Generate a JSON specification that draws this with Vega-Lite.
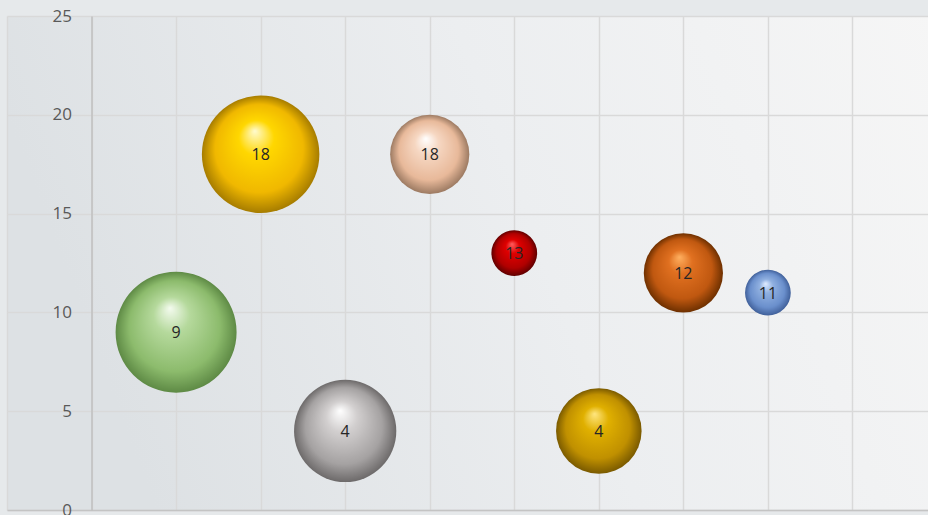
{
  "$schema": "https://vega.github.io/schema/vega-lite/v6.json",
  "width": 930,
  "height": 494,
  "autosize": {"type": "none"},
  "padding": {"left": 7, "top": 16, "right": 0, "bottom": 5},
  "background": "#e6e9eb",
  "config": {
    "view": {
      "stroke": null,
      "fill": {"gradient": "linear", "x1": 0, "y1": 0.2, "x2": 1, "y2": 0, "stops": [{"offset": 0, "color": "#dde1e4"}, {"offset": 0.5, "color": "#eceef0"}, {"offset": 1, "color": "#f6f6f6"}]}
    },
    "font": "Open Sans",
    "point": {"filled": true, "opacity": 1, "strokeWidth": 0}
  },
  "data": {
    "values": [
      {"ball": "a", "x": 1, "y": 9, "z": 7},
      {"ball": "b", "x": 2, "y": 18, "z": 6.6},
      {"ball": "c", "x": 3, "y": 4, "z": 5},
      {"ball": "d", "x": 4, "y": 18, "z": 3},
      {"ball": "e", "x": 5, "y": 13, "z": 1},
      {"ball": "f", "x": 6, "y": 4, "z": 3.5},
      {"ball": "g", "x": 7, "y": 12, "z": 3},
      {"ball": "h", "x": 8, "y": 11, "z": 1}
    ]
  },
  "encoding": {
    "x": {
      "field": "x", "type": "quantitative",
      "scale": {"domain": [-1, 10], "nice": false, "zero": false},
      "axis": {"title": null, "labels": false, "ticks": false, "values": [-1, 0, 1, 2, 3, 4, 5, 6, 7, 8, 9, 10], "grid": true, "gridColor": "#d9d9d9", "gridWidth": 1.5, "domainColor": "#c4c4c4", "domainWidth": 1.5}
    },
    "y": {
      "field": "y", "type": "quantitative",
      "scale": {"domain": [0, 25], "nice": false},
      "axis": {"title": null, "values": [0, 5, 10, 15, 20, 25], "ticks": false, "offset": -84.5, "labelPadding": 20, "labelFontSize": 17, "labelColor": "#595959", "labelFont": "Open Sans", "grid": true, "gridColor": "#d9d9d9", "gridWidth": 1.5, "domainColor": "#bfbfbf", "domainWidth": 1.5}
    },
    "size": {"field": "z", "type": "quantitative", "scale": {"domain": [0, 7], "range": [0, 14641]}, "legend": null}
  },
  "layer": [
    {
      "transform": [{"filter": "datum.ball == 'a'"}],
      "mark": {"type": "point", "color": {"gradient": "radial", "x1": 0.45, "y1": 0.3, "r1": 0, "x2": 0.5, "y2": 0.5, "r2": 0.5, "stops": [{"offset": 0, "color": "#f4fbef"}, {"offset": 0.3, "color": "#b5d99c"}, {"offset": 0.75, "color": "#8cbb6c"}, {"offset": 1, "color": "#5e8a45"}]}}
    },
    {
      "transform": [{"filter": "datum.ball == 'b'"}],
      "mark": {"type": "point", "color": {"gradient": "radial", "x1": 0.45, "y1": 0.3, "r1": 0, "x2": 0.5, "y2": 0.5, "r2": 0.5, "stops": [{"offset": 0, "color": "#fffbd0"}, {"offset": 0.3, "color": "#ffd700"}, {"offset": 0.75, "color": "#f0b800"}, {"offset": 1, "color": "#a67c00"}]}}
    },
    {
      "transform": [{"filter": "datum.ball == 'c'"}],
      "mark": {"type": "point", "color": {"gradient": "radial", "x1": 0.45, "y1": 0.3, "r1": 0, "x2": 0.5, "y2": 0.5, "r2": 0.5, "stops": [{"offset": 0, "color": "#ffffff"}, {"offset": 0.3, "color": "#d2cfcf"}, {"offset": 0.75, "color": "#a5a2a2"}, {"offset": 1, "color": "#6d6a6a"}]}}
    },
    {
      "transform": [{"filter": "datum.ball == 'd'"}],
      "mark": {"type": "point", "color": {"gradient": "radial", "x1": 0.45, "y1": 0.3, "r1": 0, "x2": 0.5, "y2": 0.5, "r2": 0.5, "stops": [{"offset": 0, "color": "#ffffff"}, {"offset": 0.3, "color": "#f6d7c2"}, {"offset": 0.75, "color": "#e8b99a"}, {"offset": 1, "color": "#9c7a62"}]}}
    },
    {
      "transform": [{"filter": "datum.ball == 'e'"}],
      "mark": {"type": "point", "color": {"gradient": "radial", "x1": 0.45, "y1": 0.3, "r1": 0, "x2": 0.5, "y2": 0.5, "r2": 0.5, "stops": [{"offset": 0, "color": "#ff6060"}, {"offset": 0.3, "color": "#e00000"}, {"offset": 0.75, "color": "#b00000"}, {"offset": 1, "color": "#600000"}]}}
    },
    {
      "transform": [{"filter": "datum.ball == 'f'"}],
      "mark": {"type": "point", "color": {"gradient": "radial", "x1": 0.45, "y1": 0.3, "r1": 0, "x2": 0.5, "y2": 0.5, "r2": 0.5, "stops": [{"offset": 0, "color": "#ffe680"}, {"offset": 0.3, "color": "#e0b000"}, {"offset": 0.75, "color": "#c09000"}, {"offset": 1, "color": "#7a5a00"}]}}
    },
    {
      "transform": [{"filter": "datum.ball == 'g'"}],
      "mark": {"type": "point", "color": {"gradient": "radial", "x1": 0.45, "y1": 0.3, "r1": 0, "x2": 0.5, "y2": 0.5, "r2": 0.5, "stops": [{"offset": 0, "color": "#ffb060"}, {"offset": 0.3, "color": "#e07020"}, {"offset": 0.75, "color": "#c05810"}, {"offset": 1, "color": "#6e3000"}]}}
    },
    {
      "transform": [{"filter": "datum.ball == 'h'"}],
      "mark": {"type": "point", "color": {"gradient": "radial", "x1": 0.45, "y1": 0.3, "r1": 0, "x2": 0.5, "y2": 0.5, "r2": 0.5, "stops": [{"offset": 0, "color": "#e0ecff"}, {"offset": 0.3, "color": "#90b0e0"}, {"offset": 0.75, "color": "#6a8fcc"}, {"offset": 1, "color": "#40609a"}]}}
    },
    {
      "mark": {"type": "text", "fontSize": 16, "color": "#262626", "baseline": "middle", "align": "center", "dy": 1},
      "encoding": {"text": {"field": "y", "type": "quantitative"}, "size": {"value": 16}}
    }
  ]
}
